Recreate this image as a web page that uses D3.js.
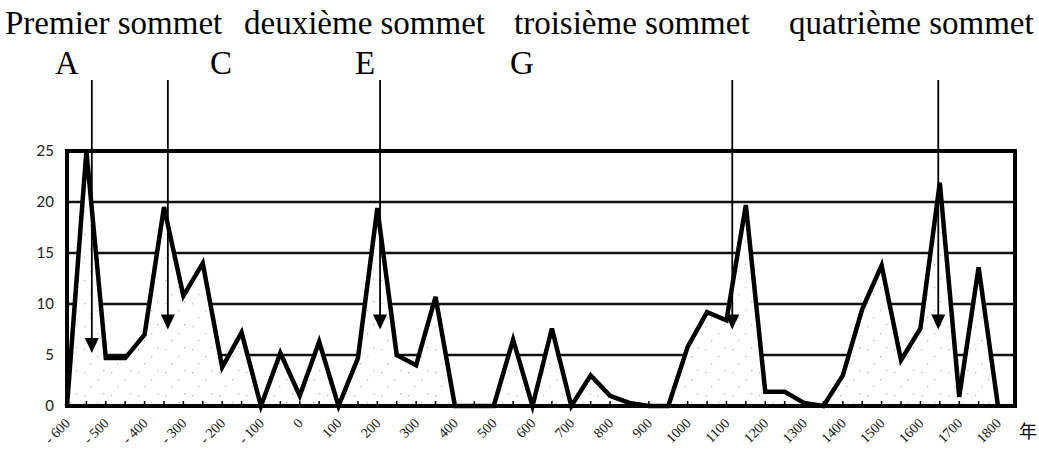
<!DOCTYPE html>
<html>
<head>
<meta charset="utf-8">
<script src="https://cdn.jsdelivr.net/npm/d3@7"></script>
<style>
  body { margin: 0; background: #fff; }
  svg { display: block; }
  .ylab { font-family: Lato, "DejaVu Sans", sans-serif; font-size: 15px; fill: #222; }
  .xlab { font-family: "Liberation Serif", serif; font-size: 14px; fill: #111; }
  .top { font-family: "Liberation Serif", "Times New Roman", serif; font-size: 33px; fill: #000; }
</style>
</head>
<body>
<div id="container"></div>
<script>
// values, one point every 50 years
const years = [-600,-550,-500,-450,-400,-350,-300,-250,-200,-150,-100,-50,0,50,100,150,200,250,300,350,
               400,450,500,550,600,650,700,750,800,850,900,950,1000,1050,1100,1150,1200,1250,1300,1350,
               1400,1450,1500,1550,1600,1650,1700,1750,1800];
const counts = [0,25,4.7,4.7,7,19.5,10.8,14,3.8,7.2,0,5.2,1,6.3,0,4.7,19.4,5,4,10.7,
                0,0,0,6.5,0,7.6,0,3,1,0.3,0,0,5.8,9.2,8.4,19.7,1.4,1.4,0.3,0,
                3,9.5,13.8,4.5,7.6,21.9,0.9,13.6,0];
const yTicks = [0,5,10,15,20,25];
const xLabels = [-600,-500,-400,-300,-200,-100,0,100,200,300,400,500,600,700,800,900,1000,1100,1200,1300,1400,1500,1600,1700,1800];
const peakTitles = ["Premier sommet","deuxième sommet","troisième sommet","quatrième sommet"];
const letters = ["A","C","E","G"];
// arrows: year and value of the arrow tip
const arrowYears = [-536,-340,207,1115,1646];
const arrowVals = [5.2,7.5,7.5,7.5,7.5];

const width = 1039, height = 453;
const frame = { left: 67, right: 1015, top: 151, bot: 406 };

const svg = d3.select("#container").append("svg")
              .attr("width", width).attr("height", height);

const x = d3.scaleLinear().domain([-600, 1800]).range([67, 998]);
const y = d3.scaleLinear().domain([0, 25]).range([frame.bot, frame.top]);

// stipple pattern for the area under the curve
const defs = svg.append("defs");
const pat = defs.append("pattern").attr("id", "dots")
                .attr("width", 27).attr("height", 23)
                .attr("patternUnits", "userSpaceOnUse");
pat.append("rect").attr("width", 27).attr("height", 23).attr("fill", "#fff");
[[3,4],[16,11],[9,18],[22,2]].forEach(p => {
  pat.append("rect").attr("x", p[0]).attr("y", p[1]).attr("width", 1.3).attr("height", 1.3).attr("fill", "#b8b8b8");
});

// horizontal grid lines
svg.append("g").selectAll("line")
   .data(yTicks.filter(d => d > 0 && d < 25))
   .enter().append("line")
   .attr("x1", frame.left).attr("x2", frame.right)
   .attr("y1", d => y(d)).attr("y2", d => y(d))
   .attr("stroke", "#111").attr("stroke-width", 2.4);

const pts = years.map((d, i) => [d, counts[i]]);

svg.append("path")
   .datum(pts)
   .attr("fill", "url(#dots)")
   .attr("d", d3.area().x(d => x(d[0])).y0(y(0)).y1(d => y(d[1])));

// frame
svg.append("rect")
   .attr("x", frame.left).attr("y", frame.top)
   .attr("width", frame.right - frame.left).attr("height", frame.bot - frame.top)
   .attr("fill", "none").attr("stroke", "#000").attr("stroke-width", 4);

// small ticks on the base line
svg.append("g").selectAll("line")
   .data(years)
   .enter().append("line")
   .attr("x1", d => x(d)).attr("x2", d => x(d))
   .attr("y1", frame.bot).attr("y2", frame.bot - 5)
   .attr("stroke", "#000").attr("stroke-width", 1.5);

svg.append("path")
   .datum(pts)
   .attr("fill", "none").attr("stroke", "#000").attr("stroke-width", 4.5)
   .attr("stroke-linejoin", "miter")
   .attr("d", d3.line().x(d => x(d[0])).y(d => y(d[1])));

// y labels
svg.append("g").selectAll("text")
   .data(yTicks)
   .enter().append("text")
   .attr("class", "ylab")
   .attr("x", 54).attr("y", d => y(d) + 5)
   .attr("text-anchor", "end")
   .text(d => d);

// x labels, rotated
svg.append("g").selectAll("text")
   .data(xLabels)
   .enter().append("text")
   .attr("class", "xlab")
   .attr("text-anchor", "end")
   .attr("transform", d => "translate(" + (x(d) + 4) + "," + 424 + ")rotate(-45)")
   .text(d => d < 0 ? "- " + (-d) : d);

svg.append("text")
   .attr("x", 1019).attr("y", 438)
   .style("font-family", "'Noto Sans CJK SC', sans-serif")
   .style("font-size", "18px")
   .text("年");

// titles above the chart
const titleX = [5, 244, 514, 789];
svg.append("g").selectAll("text")
   .data(peakTitles)
   .enter().append("text")
   .attr("class", "top")
   .attr("x", (d, i) => titleX[i]).attr("y", 34)
   .text(d => d);

const letterX = [55, 210, 355, 510];
svg.append("g").selectAll("text")
   .data(letters)
   .enter().append("text")
   .attr("class", "top")
   .attr("x", (d, i) => letterX[i]).attr("y", 74)
   .text(d => d);

// arrows
const arrows = svg.append("g");
arrowYears.forEach((yr, i) => {
  const ax = x(yr), tip = y(arrowVals[i]);
  arrows.append("line")
        .attr("x1", ax).attr("x2", ax).attr("y1", 80).attr("y2", tip - 10)
        .attr("stroke", "#000").attr("stroke-width", 1.8);
  arrows.append("path")
        .attr("d", "M" + (ax - 7) + "," + (tip - 15) + "L" + (ax + 7) + "," + (tip - 15) + "L" + ax + "," + tip + "Z")
        .attr("fill", "#000");
});
</script>
</body>
</html>
